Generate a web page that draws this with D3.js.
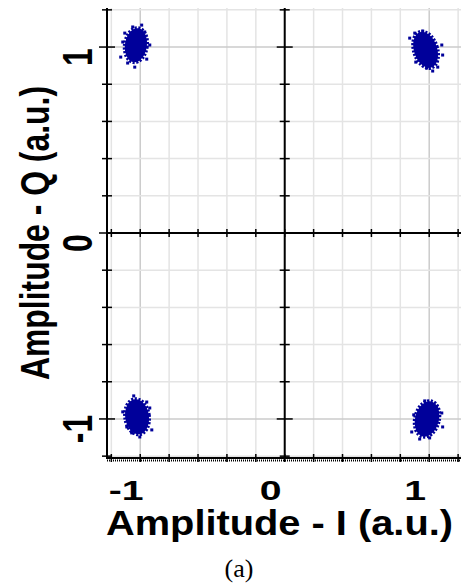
<!DOCTYPE html>
<html>
<head>
<meta charset="utf-8">
<script src="https://cdn.jsdelivr.net/npm/d3@7"></script>
<style>
body { margin: 0; background: #fff; }
svg { display: block; }
text { font-family: "Liberation Sans", Arial, sans-serif; font-weight: bold; fill: #000; }
</style>
</head>
<body>
<svg width="462" height="585"></svg>
<script>
// constellation cluster centres and spread (I, Q)
var clusterI = [-1.03, 0.975, -1.022, 0.985];
var clusterQ = [1.01, 0.985, -0.988, -1.0];
var spreadI = [0.076, 0.08, 0.082, 0.082];
var spreadQ = [0.092, 0.1, 0.095, 0.097];
var tilt = [8, -18, -8, 14];

// stray samples around the edges of each cluster
var strayI = [-1.135, -1.038, -0.955, -0.990, -1.052, -0.934, -1.121, -1.087, -0.969, -1.107,
    0.865, 1.087, 1.059, 1.024, 0.983, 0.907, 0.955, 0.900, 1.093,
    -1.045, -0.955, -0.920, -1.003, -1.121, -1.093, -0.934, -1.059,
    0.969, 1.052, 0.879, 0.934, 1.003, 1.087, 1.093, 0.893];
var strayQ = [0.946, 0.892, 0.935, 1.118, 1.108, 1.011, 1.027, 0.914, 1.081, 1.075,
    1.048, 1.011, 0.892, 0.871, 0.887, 0.919, 1.086, 1.075, 0.957,
    -0.876, -0.909, -1.059, -1.097, -0.962, -1.043, -0.941, -1.075,
    -0.903, -0.935, -1.070, -1.108, -1.102, -0.968, -1.043, -0.978];

var xLabels = [-1, 0, 1];
var yLabels = [-1, 0, 1];
var gridValues = [-1.2, -1, -0.8, -0.6, -0.4, -0.2, 0, 0.2, 0.4, 0.6, 0.8, 1, 1.2];

function drawChart() {

    var svg = d3.select("svg");

    var x = d3.scaleLinear().domain([-1.23, 1.22]).range([107, 461]);
    var y = d3.scaleLinear().domain([-1.21, 1.21]).range([458, 8]);

    var blue = "#00009a";

    // grid
    var grid = svg.append("g").attr("class", "grid");
    grid.selectAll("line.gx")
        .data(gridValues)
        .enter()
        .append("line")
        .attr("x1", function (d) { return x(d); })
        .attr("x2", function (d) { return x(d); })
        .attr("y1", y(1.21))
        .attr("y2", y(-1.21))
        .attr("stroke", function (d) { return Math.abs(Math.abs(d) - 1) < 1e-9 ? "#cbcbcb" : "#e4e4e4"; })
        .attr("stroke-width", 1.5);
    grid.selectAll("line.gy")
        .data(gridValues)
        .enter()
        .append("line")
        .attr("y1", function (d) { return y(d); })
        .attr("y2", function (d) { return y(d); })
        .attr("x1", x(-1.23))
        .attr("x2", x(1.22))
        .attr("stroke", function (d) { return Math.abs(Math.abs(d) - 1) < 1e-9 ? "#cbcbcb" : "#e4e4e4"; })
        .attr("stroke-width", 1.5);

    // axes
    var axes = svg.append("g").attr("class", "axes").attr("stroke", "#000");

    function vAxis(xv) {
        axes.append("line")
            .attr("x1", x(xv)).attr("x2", x(xv))
            .attr("y1", y(1.21)).attr("y2", y(-1.21) + 1)
            .attr("stroke-width", 2);
        axes.selectAll(null)
            .data(gridValues)
            .enter()
            .append("line")
            .attr("y1", function (d) { return y(d); })
            .attr("y2", function (d) { return y(d); })
            .attr("x1", function (d) { return x(xv) - (Number.isInteger(d) ? 8 : 5); })
            .attr("x2", function (d) { return x(xv) + (Number.isInteger(d) ? 8 : 5); })
            .attr("stroke-width", 1.5);
    }

    function hAxis(yv, dy) {
        axes.append("line")
            .attr("x1", x(-1.23)).attr("x2", x(1.22))
            .attr("y1", y(yv) + dy).attr("y2", y(yv) + dy)
            .attr("stroke-width", 2);
        axes.selectAll(null)
            .data(gridValues)
            .enter()
            .append("line")
            .attr("x1", function (d) { return x(d); })
            .attr("x2", function (d) { return x(d); })
            .attr("y1", y(yv) + dy - 4)
            .attr("y2", y(yv) + dy + 4)
            .attr("stroke-width", 1.5);
    }

    vAxis(-1.23);
    vAxis(0);
    hAxis(0, 0);
    hAxis(-1.21, 0);

    // dotted minor ticks under the bottom axis
    axes.append("line")
        .attr("x1", x(-1.23)).attr("x2", x(1.22))
        .attr("y1", y(-1.21) + 2.5).attr("y2", y(-1.21) + 2.5)
        .attr("stroke-width", 2)
        .attr("stroke-dasharray", "1,1");

    // constellation points: dense core with a ragged edge, then the strays
    var pts = svg.append("g").attr("class", "points");
    pts.selectAll("ellipse")
        .data(clusterI)
        .enter()
        .append("ellipse")
        .attr("transform", function (d, i) {
            return "translate(" + x(d) + "," + y(clusterQ[i]) + ") rotate(" + tilt[i] + ")";
        })
        .attr("rx", function (d, i) { return x(d + spreadI[i]) - x(d); })
        .attr("ry", function (d, i) { return y(clusterQ[i]) - y(clusterQ[i] + spreadQ[i]); })
        .attr("fill", blue)
        .attr("stroke", blue)
        .attr("stroke-width", 4)
        .attr("stroke-dasharray", "2,1.5");

    pts.selectAll("rect")
        .data(strayI)
        .enter()
        .append("rect")
        .attr("x", function (d) { return x(d) - 1.5; })
        .attr("y", function (d, i) { return y(strayQ[i]) - 1.5; })
        .attr("width", 3)
        .attr("height", 3)
        .attr("fill", blue);

    // tick labels
    svg.append("g").selectAll("text")
        .data(xLabels)
        .enter()
        .append("text")
        .attr("transform", function (d) { return "translate(" + (x(d) - 14) + ",500) scale(1.4,1)"; })
        .attr("text-anchor", "middle")
        .attr("font-size", 28)
        .text(function (d) { return d; });

    svg.append("g").selectAll("text")
        .data(yLabels)
        .enter()
        .append("text")
        .attr("transform", function (d) { return "translate(92," + (y(d) + 10) + ") rotate(-90) scale(0.76,1)"; })
        .attr("text-anchor", "middle")
        .attr("font-size", 42)
        .text(function (d) { return d; });

    // axis titles
    svg.append("text")
        .attr("x", 106)
        .attr("y", 535)
        .attr("font-size", 35)
        .attr("textLength", 347)
        .attr("lengthAdjust", "spacingAndGlyphs")
        .text("Amplitude - I (a.u.)");

    svg.append("text")
        .attr("transform", "translate(49,380) rotate(-90)")
        .attr("font-size", 41)
        .attr("textLength", 294)
        .attr("lengthAdjust", "spacingAndGlyphs")
        .text("Amplitude - Q (a.u.)");

    // caption
    svg.append("text")
        .attr("x", 239)
        .attr("y", 577)
        .attr("text-anchor", "middle")
        .attr("font-size", 26)
        .style("font-family", "'Liberation Serif', 'Times New Roman', serif")
        .style("font-weight", "normal")
        .text("(a)");
}

drawChart();
</script>
</body>
</html>
